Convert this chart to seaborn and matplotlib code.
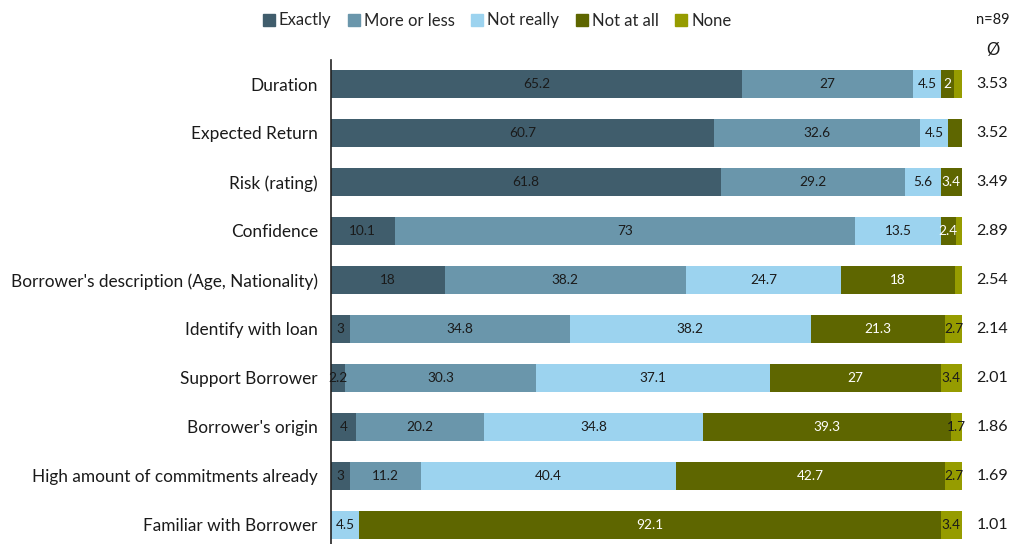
import matplotlib
matplotlib.use("Agg")
import matplotlib.pyplot as plt
import seaborn as sns
import pandas as pd
import numpy as np
from matplotlib.lines import Line2D

categories = ["Duration", "Expected Return", "Risk (rating)", "Confidence",
              "Borrower's description (Age, Nationality)", "Identify with loan",
              "Support Borrower", "Borrower's origin",
              "High amount of commitments already", "Familiar with Borrower"]
series = ["Exactly", "More or less", "Not really", "Not at all", "None"]
exactly = [65.2, 60.7, 61.8, 10.1, 18, 3, 2.2, 4, 3, 0]
more_or_less = [27, 32.6, 29.2, 73, 38.2, 34.8, 30.3, 20.2, 11.2, 0]
not_really = [4.5, 4.5, 5.6, 13.5, 24.7, 38.2, 37.1, 34.8, 40.4, 4.5]
not_at_all = [2, 2.2, 3.4, 2.4, 18, 21.3, 27, 39.3, 42.7, 92.1]
none = [1.3, 0, 0, 1.0, 1.1, 2.7, 3.4, 1.7, 2.7, 3.4]
averages = ["3.53", "3.52", "3.49", "2.89", "2.54", "2.14", "2.01", "1.86", "1.69", "1.01"]
n_label = "n=89"
avg_header = "Ø"
# segments whose value label is not shown in the reference
hidden = {(0, 4), (1, 3), (3, 4), (4, 4)}

colors = ["#405D6C", "#6A96AB", "#9CD3EF", "#5E6600", "#969C00"]
text_colors = ["#1a1a1a", "#1a1a1a", "#1a1a1a", "#ffffff", "#1a1a1a"]

sns.set_theme(style="white")
plt.rcParams["font.family"] = ["Lato", "DejaVu Sans"]

vals = np.array([exactly, more_or_less, not_really, not_at_all, none])
cum = np.cumsum(vals, axis=0)

fig = plt.figure(figsize=(10.12, 5.44), dpi=100)
ax = fig.add_axes([331 / 1012, 0.0, (962 - 331) / 1012, 1 - 60 / 544])

for k in range(len(series) - 1, -1, -1):
    df = pd.DataFrame({"cat": categories, "v": cum[k]})
    sns.barplot(data=df, y="cat", x="v", orient="h", color=colors[k],
                saturation=1, width=0.56, ax=ax, edgecolor="none", linewidth=0)

for k in range(len(series)):
    for i in range(len(categories)):
        v = vals[k, i]
        if v <= 0 or (i, k) in hidden:
            continue
        xc = cum[k, i] - v / 2
        lab = f"{v:g}"
        ax.text(xc, i, lab, ha="center", va="center", fontsize=9.8,
                color=text_colors[k])

ax.set_xlim(0, 100)
ax.set_ylim(9.39, -0.49)
ax.set_xlabel("")
ax.set_ylabel("")
ax.set_xticks([])
for s in ["top", "right", "bottom"]:
    ax.spines[s].set_visible(False)
ax.spines["left"].set_color("#222222")
ax.spines["left"].set_linewidth(1.2)
ax.tick_params(axis="y", length=0, pad=9.5, labelsize=12.4, labelcolor="#1a1a1a")

for i, a in enumerate(averages):
    ax.text(1.048, i, a, transform=ax.get_yaxis_transform(), ha="center",
            va="center", fontsize=11.5, color="#1a1a1a")
fig.text(993 / 1012, 1 - 20 / 544, n_label, ha="center", va="center",
         fontsize=10.5, color="#1a1a1a")
fig.text(993 / 1012, 1 - 50 / 544, avg_header, ha="center", va="center",
         fontsize=12, color="#1a1a1a")

handles = [Line2D([0], [0], marker="s", linestyle="none", markersize=9,
                  markerfacecolor=c, markeredgecolor=c) for c in colors]
fig.legend(handles, series, loc="center", bbox_to_anchor=(496 / 1012, 1 - 20.5 / 544),
           ncol=5, frameon=False, fontsize=12, handletextpad=0.1,
           columnspacing=0.85, handlelength=1.0)

fig.savefig("out.png", dpi=100)
